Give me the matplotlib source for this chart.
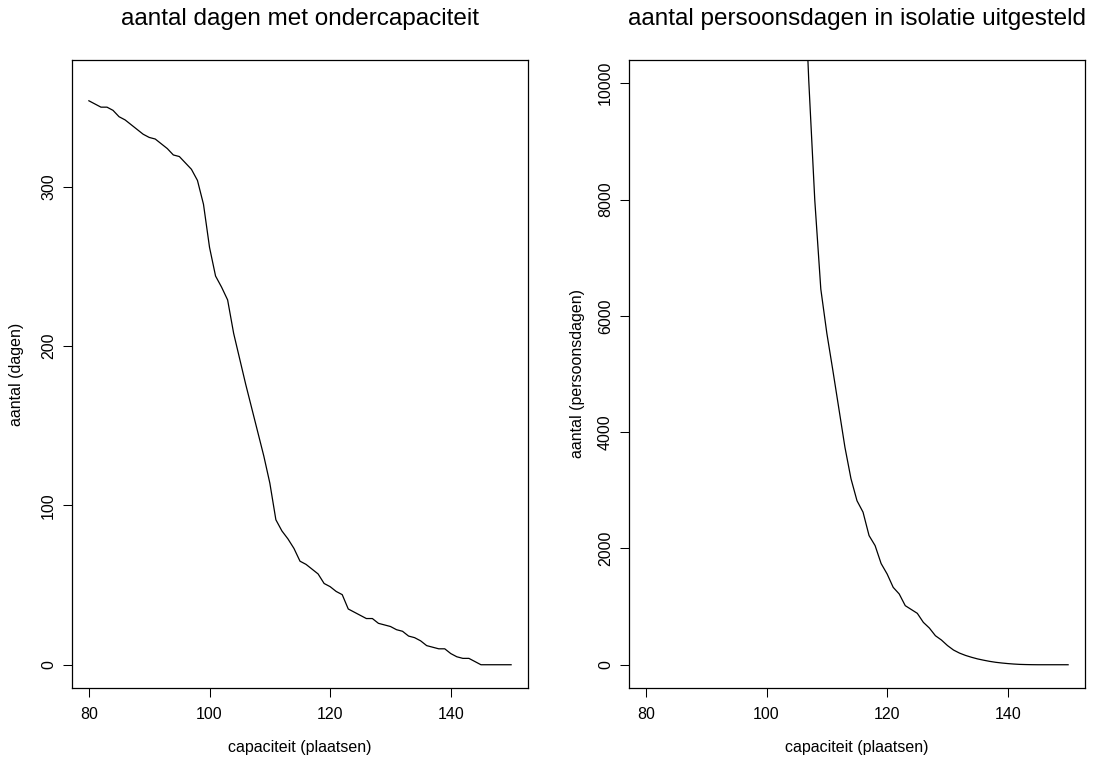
import matplotlib
matplotlib.use("Agg")
import matplotlib.pyplot as plt

plt.rcParams["font.family"] = ["Liberation Sans", "DejaVu Sans"]

# capaciteit (plaatsen)
capacity = [80, 81, 82, 83, 84, 85, 86, 87, 88, 89,
            90, 91, 92, 93, 94, 95, 96, 97, 98, 99,
            100, 101, 102, 103, 104, 105, 106, 107, 108, 109,
            110, 111, 112, 113, 114, 115, 116, 117, 118, 119,
            120, 121, 122, 123, 124, 125, 126, 127, 128, 129,
            130, 131, 132, 133, 134, 135, 136, 137, 138, 139,
            140, 141, 142, 143, 144, 145, 146, 147, 148, 149, 150]

# aantal dagen met ondercapaciteit
days_short = [354, 352, 350, 350, 348, 344, 342, 339, 336, 333,
              331, 330, 327, 324, 320, 319, 315, 311, 304, 289,
              262, 244, 237, 229, 208, 192, 176, 161, 146, 131,
              114, 91, 84, 79, 73, 65, 63, 60, 57, 51,
              49, 46, 44, 35, 33, 31, 29, 29, 26, 25,
              24, 22, 21, 18, 17, 15, 12, 11, 10, 10,
              7, 5, 4, 4, 2, 0, 0, 0, 0, 0, 0]

# aantal persoonsdagen in isolatie uitgesteld (lage capaciteit valt buiten beeld)
person_days = [128500, 122700, 117000, 111400, 105900, 100500, 95200, 90000, 84900, 79900,
               75000, 70200, 65500, 60900, 56400, 52000, 47700, 43500, 39400, 35400,
               31600, 28000, 24600, 21300, 18200, 15300, 12550, 10050, 7990, 6460,
               5700, 5060, 4400, 3740, 3200, 2820, 2624, 2221, 2049, 1740,
               1560, 1331, 1217, 1016, 950, 884, 729, 631, 499, 425,
               330, 253, 200, 160, 128, 100, 78, 58, 42, 30,
               20, 12, 6, 3, 1, 0, 0, 0, 0, 0, 0]

x_ticks = [80, 100, 120, 140]
left_yticks = [0, 100, 200, 300]
right_yticks = [0, 2000, 4000, 6000, 8000, 10000]

fig = plt.figure(figsize=(10.96, 7.57), dpi=100)
ax1 = fig.add_axes([72 / 1096, 69 / 757, 456 / 1096, 628 / 757])
ax2 = fig.add_axes([629 / 1096, 69 / 757, 456 / 1096, 628 / 757])

panels = [
    (ax1, days_short, (0, 365), left_yticks,
     "aantal dagen met ondercapaciteit", "aantal (dagen)"),
    (ax2, person_days, (0, 10000), right_yticks,
     "aantal persoonsdagen in isolatie uitgesteld", "aantal (persoonsdagen)"),
]

for ax, values, (y0, y1), yt, title, ylabel in panels:
    ax.plot(capacity, values, color="black", lw=0.9)
    dx = (150 - 80) * 0.04
    dy = (y1 - y0) * 0.04
    ax.set_xlim(80 - dx, 150 + dx)
    ax.set_ylim(y0 - dy, y1 + dy)
    ax.set_xticks(x_ticks)
    ax.set_yticks(yt)
    ax.tick_params(direction="out", length=6.5, width=0.75, labelsize=11.5,
                   color="black", top=False, right=False)
    ax.tick_params(axis="x", pad=7)
    ax.tick_params(axis="y", pad=5)
    for lab in ax.get_yticklabels():
        lab.set_rotation(90)
        lab.set_va("center")
    for s in ax.spines.values():
        s.set_linewidth(0.9)
        s.set_color("black")
    ax.text(0.5, 1.066, title, transform=ax.transAxes, ha="center",
            va="center", fontsize=17.5)
    ax.text(0.5, -0.094, "capaciteit (plaatsen)", transform=ax.transAxes,
            ha="center", va="center", fontsize=11.5)

ax1.text(-0.121, 0.5, "aantal (dagen)", transform=ax1.transAxes, rotation=90,
         ha="center", va="center", fontsize=11.5)
ax2.text(-0.114, 0.5, "aantal (persoonsdagen)", transform=ax2.transAxes,
         rotation=90, ha="center", va="center", fontsize=11.5)

fig.savefig("out.png", dpi=100, facecolor="white")
